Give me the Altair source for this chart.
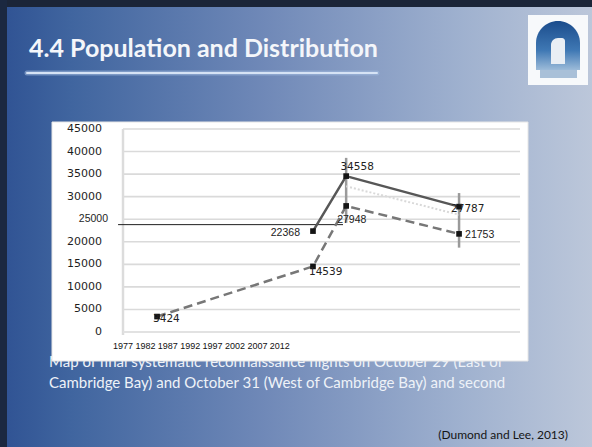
import altair as alt
import pandas as pd

# ---------------- data ----------------
y_ticks = [0, 5000, 10000, 15000, 20000, 25000, 30000, 35000, 40000, 45000]
x_tick_years = [1977, 1982, 1987, 1992, 1997, 2002, 2007, 2012]

solid_x = [2019.4, 2026.8, 2052.0]
solid_y = [22368, 34558, 27787]

dashed_x = [1984.6, 2019.4, 2026.8, 2052.0]
dashed_y = [3424, 14539, 27948, 21753]

err_x = [2026.8, 2052.0]
err_low = [24200, 18700]
err_high = [38600, 30800]

faint_x = [2026.8, 2052.0]
faint_y = [32300, 26000]

ref_x = [1975.9, 2026.1]
ref_y = 23800

title_text = "4.4 Population and Distribution"
caption_1 = "Map of final systematic reconnaissance flights on October 29 (East of"
caption_2 = "Cambridge Bay) and October 31 (West of Cambridge Bay) and second"
citation = "(Dumond and Lee, 2013)"

# ---------------- tables ----------------
solid_df = pd.DataFrame({"x": solid_x, "v": solid_y, "label": [str(v) for v in solid_y]})
dashed_df = pd.DataFrame({"x": dashed_x, "v": dashed_y, "label": [str(v) for v in dashed_y]})
points_df = pd.concat([solid_df, dashed_df], ignore_index=True)
err_df = pd.DataFrame({"x": err_x, "lo": err_low, "hi": err_high})
faint_df = pd.DataFrame({"x": faint_x, "v": faint_y})
ref_df = pd.DataFrame({"x": [ref_x[0]], "x2": [ref_x[1]], "v": [ref_y]})
grid_df = pd.DataFrame({"v": y_ticks, "label": [str(t) for t in y_ticks]})
xtick_df = pd.DataFrame({"x": x_tick_years, "label": [str(t) for t in x_tick_years]})
one = pd.DataFrame({"a": [0]})

W, H = 397, 203
PADL, PADT = 123, 129

xs = alt.Scale(domain=[1977, 2065.6], nice=False, zero=False)
ys = alt.Scale(domain=[0, 45000], nice=False, zero=False)


def px(cx):
    return cx - PADL


def py(cy):
    return cy - PADT


def box(x0, y0, x1, y1, **mk):
    return alt.Chart(one).mark_rect(**mk).encode(
        x=alt.value(px(x0)), x2=alt.value(px(x1)),
        y=alt.value(py(y0)), y2=alt.value(py(y1)))


def txt(s, cx, cy, **mk):
    return alt.Chart(one).mark_text(text=s, baseline="alphabetic", **mk).encode(
        x=alt.value(px(cx)), y=alt.value(py(cy)))


X = lambda f="x:Q": alt.X(f, scale=xs, axis=None)
Y = lambda f="v:Q": alt.Y(f, scale=ys, axis=None)

# ---------------- slide decoration ----------------
bg = box(0, 0, 592, 447, fill={
    "gradient": "linear", "x1": 0, "x2": 1, "y1": 0, "y2": 0,
    "stops": [
        {"offset": 0.0, "color": "#2f5293"},
        {"offset": 0.12, "color": "#40659f"},
        {"offset": 0.45, "color": "#7089b8"},
        {"offset": 0.78, "color": "#9fb1cf"},
        {"offset": 1.0, "color": "#bcc7da"},
    ]})
top_strip = box(0, 0, 592, 7, fill="#1b2538")
left_strip = box(0, 0, 7, 447, fill="#1b2840")

title = txt(title_text, 29, 57, font="Lato", fontWeight="bold", fontSize=25,
            color="#f4f6fa", align="left")
underline_glow = alt.Chart(one).mark_rule(color="#9fb8dc", strokeWidth=5, strokeCap="round",
                                          opacity=0.6).encode(
    x=alt.value(px(27)), x2=alt.value(px(377)), y=alt.value(py(73)))
underline = alt.Chart(one).mark_rule(color="#d6e3f5", strokeWidth=2, strokeCap="round").encode(
    x=alt.value(px(27)), x2=alt.value(px(377)), y=alt.value(py(73)))

logo_bg = box(528, 15, 588, 85, fill="#f7f9fb")
logo_dome = box(536, 21, 580, 70, fill={
    "gradient": "linear", "x1": 0, "x2": 0, "y1": 0, "y2": 1,
    "stops": [{"offset": 0, "color": "#1b4c8c"}, {"offset": 0.6, "color": "#3f78b4"},
              {"offset": 1, "color": "#9cbbd9"}]},
    cornerRadiusTopLeft=22, cornerRadiusTopRight=22)
logo_fig = box(551, 38, 565, 64, fill="#e9eef4", cornerRadiusTopLeft=7, cornerRadiusTopRight=3)
logo_band = box(540, 70, 577, 78, fill="#a9c0d8")

cap1 = txt(caption_1, 49, 367, font="Lato", fontSize=15, color="#eef2f8", align="left")
cap2 = txt(caption_2, 49, 388, font="Lato", fontSize=15, color="#eef2f8", align="left")
cite = txt(citation, 568, 439, font="Lato", fontSize=12, color="#151515", align="right")

panel = box(52, 122, 528, 361, fill="#ffffff", stroke="#e6e6e6", strokeWidth=1)

# ---------------- chart ----------------
grid = alt.Chart(grid_df).mark_rule(color="#dadada", strokeWidth=1.6).encode(
    y=Y(), x=alt.value(0), x2=alt.value(W))

y_axis_line = alt.Chart(one).mark_rule(color="#dcdcdc", strokeWidth=2.5).encode(
    x=alt.value(0), y=alt.value(0), y2=alt.value(H + 3))
x_axis_line = alt.Chart(one).mark_rule(color="#e2e2e2", strokeWidth=1.5).encode(
    x=alt.value(0), x2=alt.value(W), y=alt.value(H))

y_labels = alt.Chart(grid_df).transform_filter(alt.datum.v != 25000).mark_text(
    font="DejaVu Sans", fontSize=11, color="#1e1e1e", align="right", baseline="middle"
).encode(y=Y(), x=alt.value(-21), text="label:N")

label25 = alt.Chart(grid_df).transform_filter(alt.datum.v == 25000).mark_text(
    font="Liberation Sans", fontSize=10.5, color="#1e1e1e", align="right",
    baseline="middle").encode(y=Y(), x=alt.value(px(108)), text="label:N")

x_labels = alt.Chart(xtick_df).mark_text(
    font="Liberation Sans", fontSize=9, color="#111111", align="center", baseline="middle"
).encode(x=X(), y=alt.value(H + 14), text="label:N")

ref = alt.Chart(ref_df).mark_rule(color="#1f1f1f", strokeWidth=1).encode(
    x=X(), x2="x2:Q", y=Y())

errs = alt.Chart(err_df).mark_rule(color="#9a9a9a", strokeWidth=2.5).encode(
    x=X(), y=Y("lo:Q"), y2="hi:Q")

faint = alt.Chart(faint_df).mark_line(color="#d9d9d9", strokeWidth=2, strokeDash=[2, 2]).encode(
    x=X(), y=Y())

dashed = alt.Chart(dashed_df).mark_line(color="#777777", strokeWidth=2.5, strokeDash=[9, 5]).encode(
    x=X(), y=Y())

solid = alt.Chart(solid_df).mark_line(color="#575757", strokeWidth=2.5).encode(
    x=X(), y=Y())

markers = alt.Chart(points_df).mark_point(shape="square", filled=True, size=32,
                                          color="#141414", opacity=1).encode(
    x=X(), y=Y())

label_style = {
    "3424": ("left", -4, 2, "DejaVu Sans"),
    "14539": ("left", -4, 6, "DejaVu Sans"),
    "22368": ("right", -13, 2, "Liberation Sans"),
    "34558": ("center", 11, -9, "DejaVu Sans"),
    "27948": ("left", -9, 14, "Liberation Sans"),
    "27787": ("left", -8, 2, "DejaVu Sans"),
    "21753": ("left", 6, 1, "Liberation Sans"),
}
label_layers = []
for lab, (al, dx, dy, fnt) in label_style.items():
    label_layers.append(
        alt.Chart(points_df).transform_filter(alt.datum.label == lab).mark_text(
            align=al, dx=dx, dy=dy, baseline="middle", font=fnt, fontSize=10.5,
            color="#222222").encode(x=X(), y=Y(), text="label:N"))

chart = alt.layer(
    bg, top_strip, left_strip, title, underline_glow, underline,
    logo_bg, logo_dome, logo_fig, logo_band,
    cap1, cap2, cite, panel,
    grid, y_axis_line, x_axis_line, y_labels, label25, x_labels,
    ref, errs, faint, dashed, solid, markers, *label_layers
).properties(
    width=W, height=H,
    padding={"left": PADL, "top": PADT, "right": 592 - PADL - W, "bottom": 447 - PADT - H},
    autosize=alt.AutoSizeParams(type="none"),
    background="#3d5f9a",
).configure_view(strokeWidth=0)

chart.save("out.html", embed_options={"renderer": "svg", "actions": False})
